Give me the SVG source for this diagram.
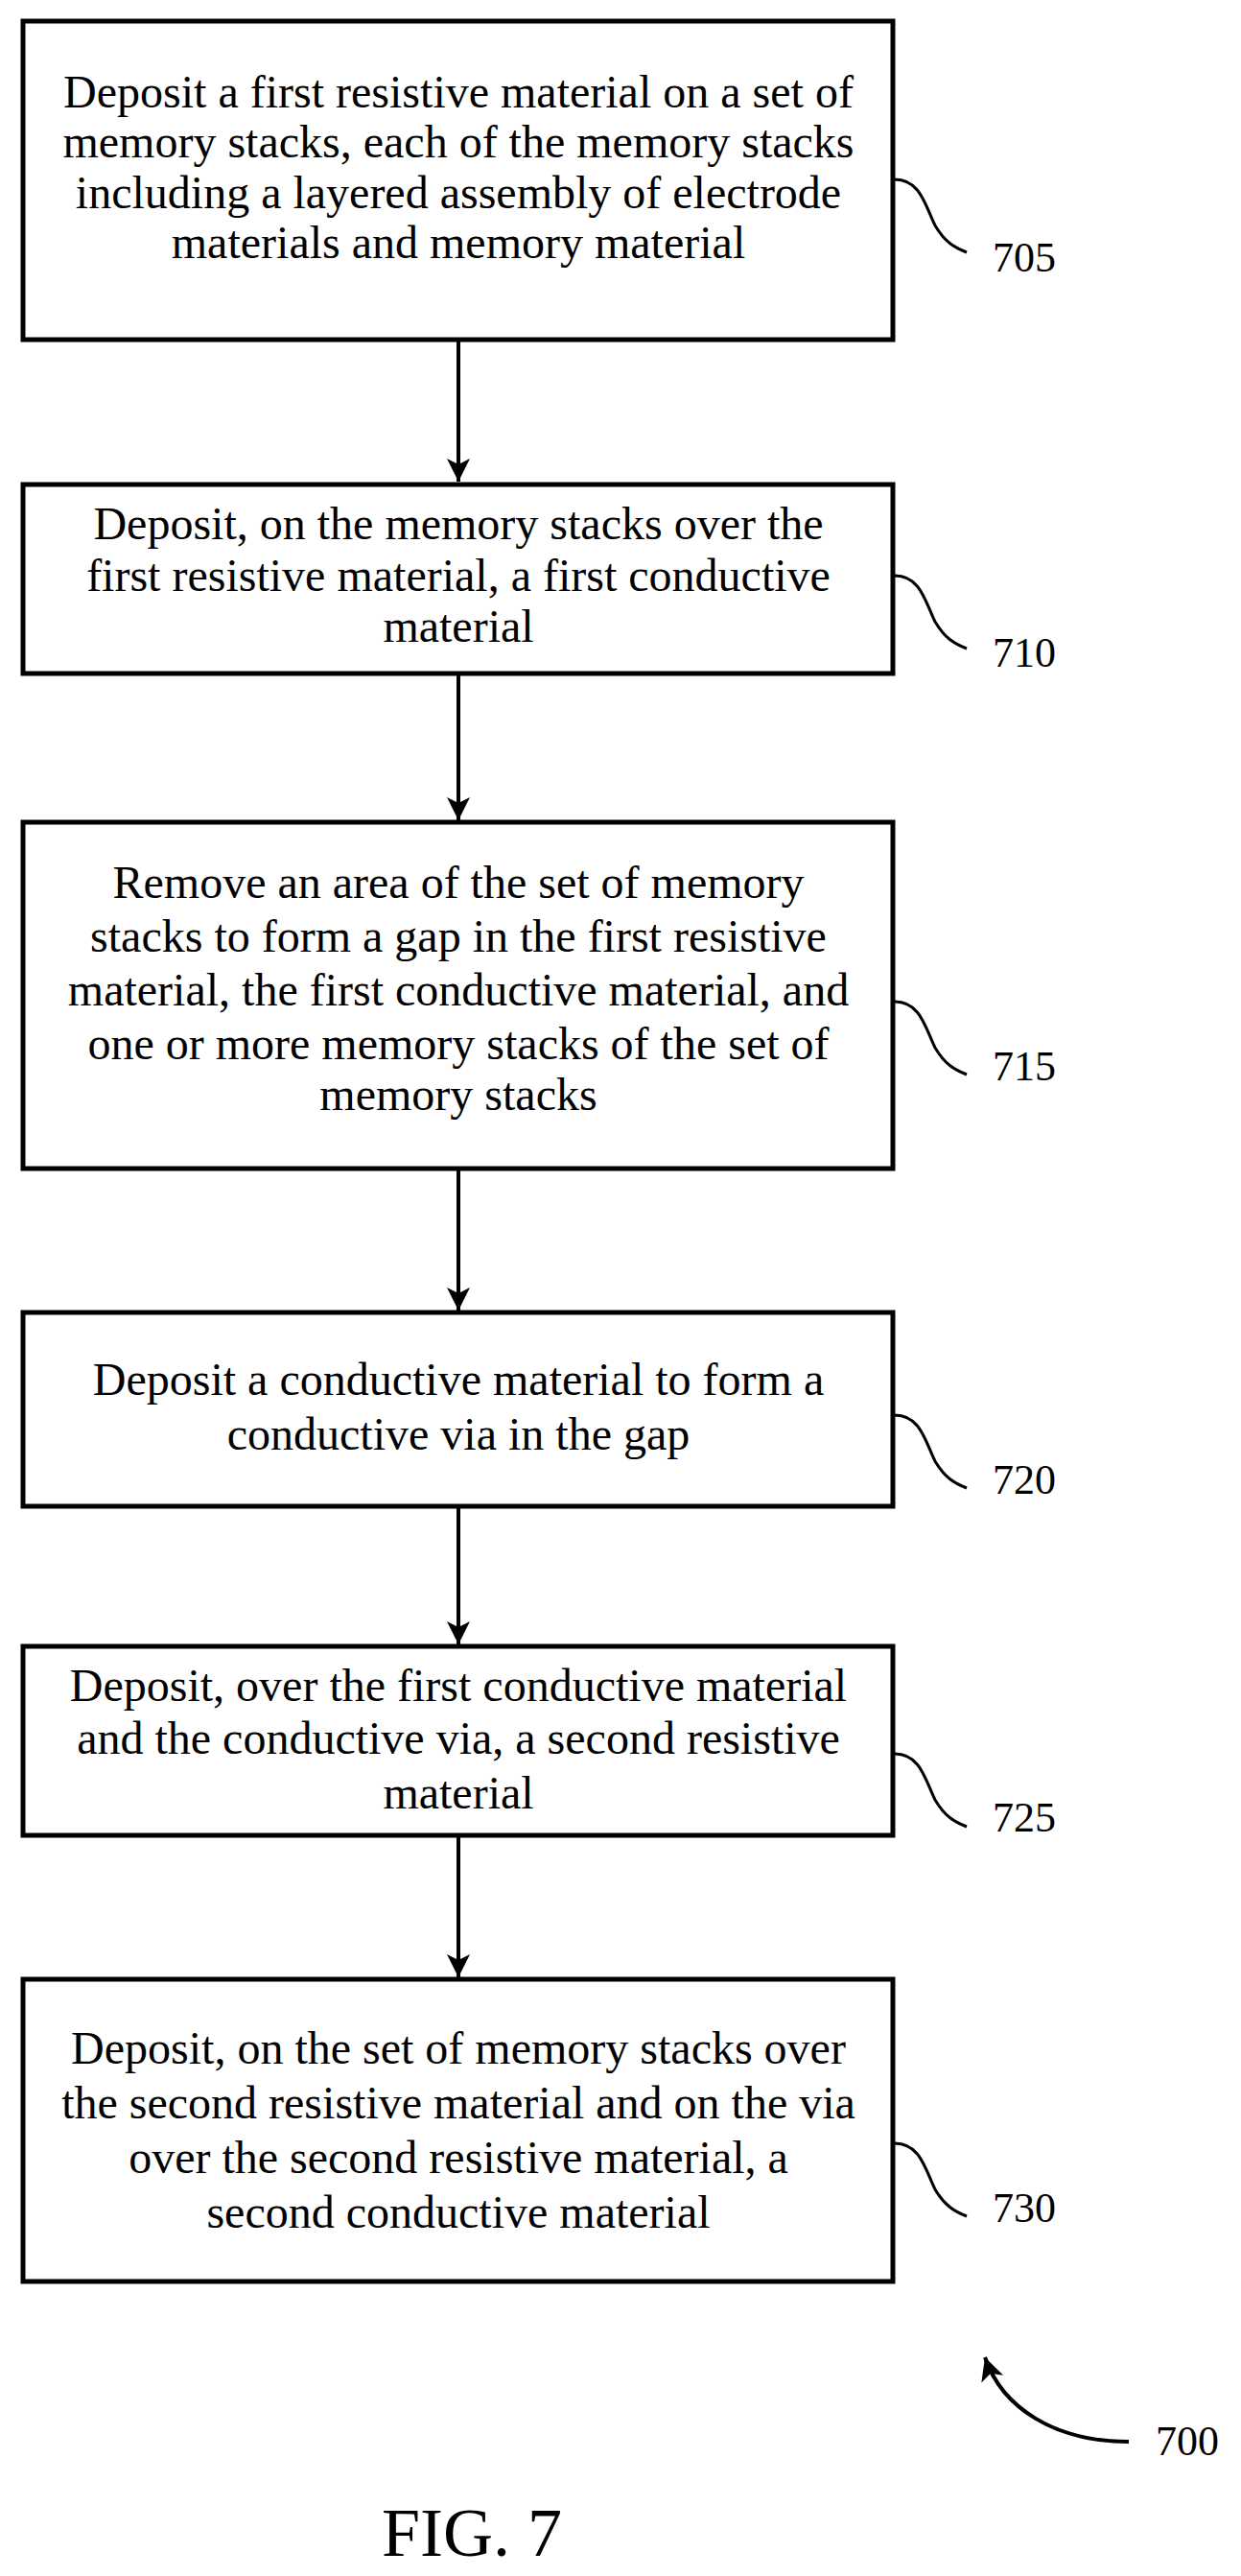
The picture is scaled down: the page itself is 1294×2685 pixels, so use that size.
<svg xmlns="http://www.w3.org/2000/svg" width="1294" height="2685" viewBox="0 0 1294 2685">
<style>
.box{fill:#fff;stroke:#000;stroke-width:5}
.t{font-family:"Liberation Serif",serif;font-size:48px;text-anchor:middle;fill:#000}
.lbl{font-family:"Liberation Serif",serif;font-size:44px;fill:#000}
.c{fill:none;stroke:#000;stroke-width:4}
.sq{fill:none;stroke:#000;stroke-width:3}
</style>
<defs>
<marker id="ah2" markerWidth="24" markerHeight="30" refX="24" refY="12" orient="auto" markerUnits="userSpaceOnUse" viewBox="0 0 24 24"><path d="M0,0 L24,12 L0,24 L6,12 Z" fill="#000"/></marker></defs>
<g id="connectors">
<line class="c" x1="478" y1="354" x2="478" y2="502" marker-end="url(#ah2)"/>
<line class="c" x1="478" y1="702" x2="478" y2="855" marker-end="url(#ah2)"/>
<line class="c" x1="478" y1="1218" x2="478" y2="1366" marker-end="url(#ah2)"/>
<line class="c" x1="478" y1="1570" x2="478" y2="1714" marker-end="url(#ah2)"/>
<line class="c" x1="478" y1="1913" x2="478" y2="2061" marker-end="url(#ah2)"/>
</g>
<g id="n705"><rect class="box" x="24" y="22" width="907" height="332"/>
<text class="t" x="478" y="112">Deposit a first resistive material on a set of</text>
<text class="t" x="478" y="164">memory stacks, each of the memory stacks</text>
<text class="t" x="478" y="217">including a layered assembly of electrode</text>
<text class="t" x="478" y="269">materials and memory material</text>
<path class="sq" d="M933,187 C960,187 965,215 975,235 C985,252 995,258 1008,263"/><text class="lbl" x="1035" y="283">705</text></g>
<g id="n710"><rect class="box" x="24" y="505" width="907" height="197"/>
<text class="t" x="478" y="562">Deposit, on the memory stacks over the</text>
<text class="t" x="478" y="616">first resistive material, a first conductive</text>
<text class="t" x="478" y="669">material</text>
<path class="sq" d="M933,600 C960,600 965,628 975,648 C985,665 995,671 1008,676"/><text class="lbl" x="1035" y="695">710</text></g>
<g id="n715"><rect class="box" x="24" y="857" width="907" height="361"/>
<text class="t" x="478" y="936">Remove an area of the set of memory</text>
<text class="t" x="478" y="992">stacks to form a gap in the first resistive</text>
<text class="t" x="478" y="1048">material, the first conductive material, and</text>
<text class="t" x="478" y="1104">one or more memory stacks of the set of</text>
<text class="t" x="478" y="1157">memory stacks</text>
<path class="sq" d="M933,1044 C960,1044 965,1072 975,1092 C985,1109 995,1115 1008,1120"/><text class="lbl" x="1035" y="1126">715</text></g>
<g id="n720"><rect class="box" x="24" y="1368" width="907" height="202"/>
<text class="t" x="478" y="1454">Deposit a conductive material to form a</text>
<text class="t" x="478" y="1511">conductive via in the gap</text>
<path class="sq" d="M933,1475 C960,1475 965,1503 975,1523 C985,1540 995,1546 1008,1551"/><text class="lbl" x="1035" y="1557">720</text></g>
<g id="n725"><rect class="box" x="24" y="1716" width="907" height="197"/>
<text class="t" x="478" y="1773">Deposit, over the first conductive material</text>
<text class="t" x="478" y="1828">and the conductive via, a second resistive</text>
<text class="t" x="478" y="1885">material</text>
<path class="sq" d="M933,1828 C960,1828 965,1856 975,1876 C985,1893 995,1899 1008,1904"/><text class="lbl" x="1035" y="1909">725</text></g>
<g id="n730"><rect class="box" x="24" y="2063" width="907" height="315"/>
<text class="t" x="478" y="2151">Deposit, on the set of memory stacks over</text>
<text class="t" x="478" y="2208">the second resistive material and on the via</text>
<text class="t" x="478" y="2265">over the second resistive material, a</text>
<text class="t" x="478" y="2322">second conductive material</text>
<path class="sq" d="M933,2234 C960,2234 965,2262 975,2282 C985,2299 995,2305 1008,2310"/><text class="lbl" x="1035" y="2316">730</text></g>
<g id="n700"><path class="c" d="M1177,2545 C1100,2545 1045,2510 1027,2457" marker-end="url(#ah2)"/>
<text class="lbl" x="1205" y="2559">700</text></g>
<text x="492" y="2664" font-family="Liberation Serif,serif" font-size="72" text-anchor="middle">FIG. 7</text>
</svg>
